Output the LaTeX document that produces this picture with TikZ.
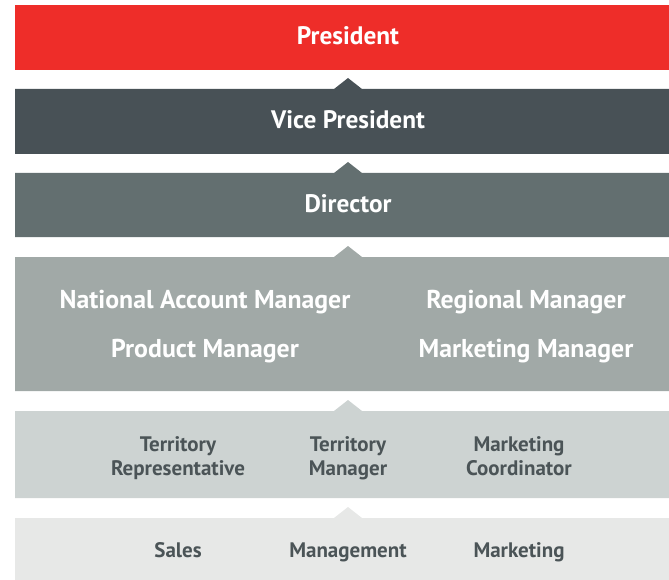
\documentclass[tikz,border=0pt]{standalone}
\usepackage{fontspec}
\setmainfont{PT Sans}
\definecolor{cPres}{HTML}{EE2D29}
\definecolor{cVP}{HTML}{485156}
\definecolor{cDir}{HTML}{636F70}
\definecolor{cMgr}{HTML}{A1A9A7}
\definecolor{cTer}{HTML}{CDD3D2}
\definecolor{cBot}{HTML}{E7E8E7}
\definecolor{cTxt}{HTML}{4B5457}
\tikzset{
  big/.style={font=\bfseries\fontsize{25.3}{30}\selectfont, text=white, anchor=base, inner sep=0pt},
  mid/.style={font=\bfseries\fontsize{25.8}{30}\selectfont, text=white, anchor=base, inner sep=0pt},
  small/.style={font=\bfseries\fontsize{21}{24}\selectfont, text=cTxt, anchor=base, inner sep=0pt, align=center},
}
\newcommand{\band}[4]{% color, top, bottom, notch(1/0)
  \ifnum#4=1
    \fill[#1] (15,#2) -- (334,#2) -- (348,#2-11) -- (362,#2) -- (669,#2) -- (669,#3) -- (15,#3) -- cycle;
  \else
    \fill[#1] (15,#2) rectangle (669,#3);
  \fi}
\begin{document}
\begin{tikzpicture}[x=1pt,y=-1pt]
\useasboundingbox (0,0) rectangle (669,580);
\band{cPres}{5}{70}{0}
\band{cVP}{89}{154}{1}
\band{cDir}{173}{237}{1}
\band{cMgr}{257}{391}{1}
\band{cTer}{411}{498}{1}
\band{cBot}{518}{580}{1}
\node[big] (pres) at (348,45) {President};
\node[big] (vp) at (348,129) {Vice President};
\node[big] (dir) at (348,213) {Director};
\node[mid] (nam) at (205,308) {National Account Manager};
\node[mid] (pm) at (205,357) {Product Manager};
\node[mid] (rm) at (526,308) {Regional Manager};
\node[mid] (mm) at (526,357) {Marketing Manager};
\node[small] (tr) at (178,475) {Territory\\Representative};
\node[small] (tm) at (348,475) {Territory\\Manager};
\node[small] (mc) at (519,475) {Marketing\\Coordinator};
\node[small] (sa) at (178,557) {Sales};
\node[small] (mg) at (348,557) {Management};
\node[small] (mk) at (519,557) {Marketing};
\end{tikzpicture}
\end{document}
